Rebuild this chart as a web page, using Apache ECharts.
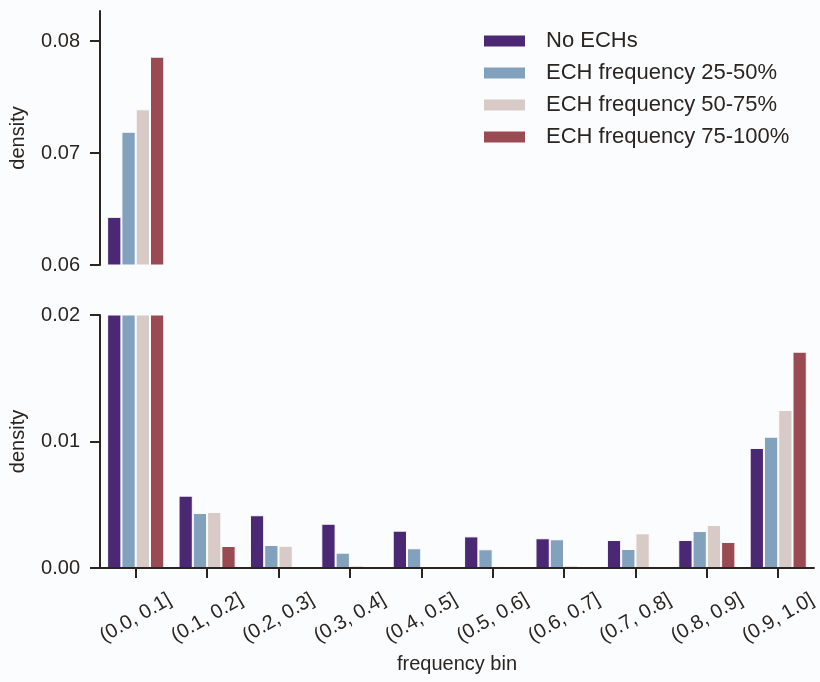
<!DOCTYPE html>
<html>
<head>
<meta charset="utf-8">
<script src="https://cdn.jsdelivr.net/npm/echarts@6/dist/echarts.min.js"></script>
<style>
html,body{margin:0;padding:0;background:#fbfcfe;}
#c{width:820px;height:682px;}
</style>
</head>
<body>
<div id="c"></div>
<script>
const categories = ['(0.0, 0.1]','(0.1, 0.2]','(0.2, 0.3]','(0.3, 0.4]','(0.4, 0.5]','(0.5, 0.6]','(0.6, 0.7]','(0.7, 0.8]','(0.8, 0.9]','(0.9, 1.0]'];
const seriesNames = ['No ECHs','ECH frequency 25-50%','ECH frequency 50-75%','ECH frequency 75-100%'];
const noECH = [0.0643, 0.00572, 0.00417, 0.0035, 0.00295, 0.0025, 0.00235, 0.00221, 0.00221, 0.00949];
const ech25 = [0.0719, 0.00435, 0.00182, 0.00121, 0.00156, 0.00148, 0.00227, 0.0015, 0.00292, 0.01038];
const ech50 = [0.0739, 0.00443, 0.00176, 0.0002, 0, 0.00015, 0.0002, 0.00274, 0.0034, 0.01249];
const ech75 = [0.0786, 0.00174, 0, 0, 0, 0, 0, 0, 0.00206, 0.0171];
const topTicks = [0.06, 0.07, 0.08];
const bottomTicks = [0, 0.01, 0.02];

const colors = ['#4b2873', '#82a1bd', '#d8cbc7', '#9a4a53'];
const allData = [noECH, ech25, ech50, ech75];
const ink = '#2a2520';
const font = 'Liberation Sans, Arial, sans-serif';

const chart = echarts.init(document.getElementById('c'), null, {renderer: 'canvas'});

const series = [];
for (let g = 0; g < 2; g++) {
  allData.forEach((d, i) => {
    series.push({
      type: 'bar',
      name: seriesNames[i],
      xAxisIndex: g,
      yAxisIndex: g,
      data: d,
      clip: true,
      barGap: '0%',
      barCategoryGap: '20%',
      itemStyle: {color: colors[i], borderColor: '#fbfcfe', borderWidth: 1},
      emphasis: {disabled: true},
      animation: false
    });
  });
}

const yCommon = {
  type: 'value',
  name: 'density',
  nameLocation: 'middle',
  nameGap: 72,
  z: 5,
  nameTextStyle: {fontSize: 20, color: ink, fontFamily: font},
  splitLine: {show: false},
  axisLine: {show: true, lineStyle: {color: ink, width: 2}},
  axisTick: {show: true, length: 10, lineStyle: {color: ink, width: 2}},
  axisLabel: {fontSize: 20, color: ink, fontFamily: font, margin: 20}
};

chart.setOption({
  backgroundColor: '#fbfcfe',
  animation: false,
  color: colors,
  legend: {
    data: seriesNames,
    orient: 'vertical',
    left: 482,
    top: 30,
    itemWidth: 43,
    itemHeight: 13,
    itemGap: 10,
    padding: 0,
    icon: 'rect',
    selectedMode: false,
    textStyle: {fontSize: 22, color: ink, fontFamily: font, padding: [0, 0, 0, 15]}
  },
  grid: [
    {left: 100, right: 6, top: 11, height: 254},
    {left: 100, right: 6, top: 315, height: 253}
  ],
  xAxis: [
    {type: 'category', gridIndex: 0, data: categories, show: false},
    {
      type: 'category', gridIndex: 1, data: categories, z: 5,
      name: 'frequency bin', nameLocation: 'middle', nameGap: 86,
      nameTextStyle: {fontSize: 20, color: ink, fontFamily: font},
      axisLine: {show: true, lineStyle: {color: ink, width: 2}},
      axisTick: {show: true, alignWithLabel: true, length: 10, lineStyle: {color: ink, width: 2}},
      axisLabel: {rotate: 30, align: 'center', verticalAlign: 'middle', margin: 50, fontSize: 20, color: ink, fontFamily: font, interval: 0}
    }
  ],
  yAxis: [
    Object.assign({}, yCommon, {
      gridIndex: 0, min: 0.06, max: 0.06 + 254 / 11200,
      axisLabel: Object.assign({}, yCommon.axisLabel, {customValues: topTicks, formatter: v => v.toFixed(2)}),
      axisTick: Object.assign({}, yCommon.axisTick, {customValues: topTicks})
    }),
    Object.assign({}, yCommon, {
      gridIndex: 1, min: 0, max: 0.02,
      axisLabel: Object.assign({}, yCommon.axisLabel, {customValues: bottomTicks, formatter: v => v.toFixed(2)}),
      axisTick: Object.assign({}, yCommon.axisTick, {customValues: bottomTicks})
    })
  ],
  series: series
});
</script>
</body>
</html>
